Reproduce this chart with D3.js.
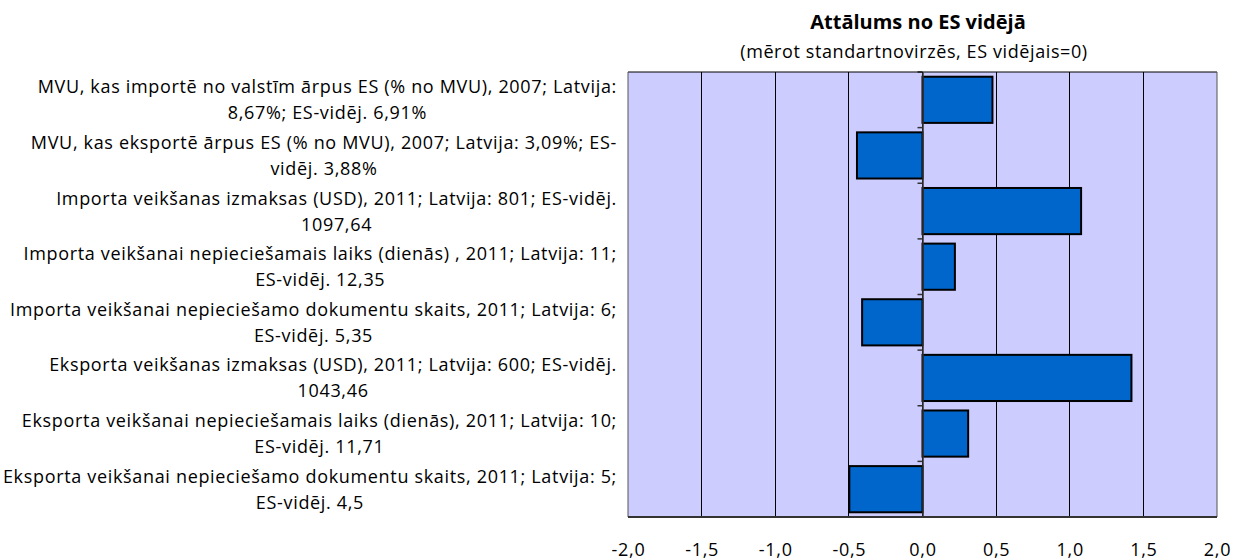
<!DOCTYPE html>
<html><head><meta charset="utf-8">
<script src="https://cdn.jsdelivr.net/npm/d3@7"></script>
<style>
body{margin:0;background:#fff;}
svg{display:block;}
text{font-family:"Open Sans",sans-serif;fill:#000;}
</style></head>
<body><svg id="c" width="1233" height="560"></svg>
<script>
const title = "Attālums no ES vidējā";
const subtitle = "(mērot standartnovirzēs, ES vidējais=0)";
const labelLine1 = [
  "MVU, kas importē no valstīm ārpus ES (% no MVU), 2007; Latvija:",
  "MVU, kas eksportē ārpus ES (% no MVU), 2007; Latvija: 3,09%; ES-",
  "Importa veikšanas izmaksas (USD), 2011; Latvija: 801; ES-vidēj.",
  "Importa veikšanai nepieciešamais laiks (dienās) , 2011; Latvija: 11;",
  "Importa veikšanai nepieciešamo dokumentu skaits, 2011; Latvija: 6;",
  "Eksporta veikšanas izmaksas (USD), 2011; Latvija: 600; ES-vidēj.",
  "Eksporta veikšanai nepieciešamais laiks (dienās), 2011; Latvija: 10;",
  "Eksporta veikšanai nepieciešamo dokumentu skaits, 2011; Latvija: 5;"
];
const labelLine2 = [
  "8,67%; ES-vidēj. 6,91%",
  "vidēj. 3,88%",
  "1097,64",
  "ES-vidēj. 12,35",
  "ES-vidēj. 5,35",
  "1043,46",
  "ES-vidēj. 11,71",
  "ES-vidēj. 4,5"
];
const values = [0.475, -0.445, 1.077, 0.22, -0.41, 1.419, 0.31, -0.497];
const xTicks = [-2, -1.5, -1, -0.5, 0, 0.5, 1, 1.5, 2];

const svg = d3.select("#c");
const L = 628, R = 1217, T = 72, B = 517;
const x = d3.scaleLinear().domain([-2, 2]).range([L, R]);
const idx = d3.range(values.length);
const y = d3.scaleBand().domain(idx).range([T, B]).paddingInner(0.17).paddingOuter(0.085);
const yb = d3.scaleBand().domain(idx).range([T, B]);

// plot background
svg.append("rect").attr("x", L).attr("y", T).attr("width", R - L).attr("height", B - T)
  .attr("fill", "#CCCCFF");

// gridlines
svg.append("g").selectAll("line").data(xTicks.filter(d => d > -2 && d < 2)).join("line")
  .attr("x1", d => x(d)).attr("x2", d => x(d)).attr("y1", T).attr("y2", B)
  .attr("stroke", "#000").attr("stroke-width", 1).attr("shape-rendering", "crispEdges");

// bars
svg.append("g").selectAll("rect").data(values).join("rect")
  .attr("x", d => x(Math.min(0, d)))
  .attr("width", d => Math.abs(x(d) - x(0)))
  .attr("y", (d, i) => y(i))
  .attr("height", y.bandwidth())
  .attr("fill", "#0066CC").attr("stroke", "#000").attr("stroke-width", 2);

// category axis at zero with ticks
const yAxis = d3.axisLeft(yb).tickSize(0).tickFormat("");
const ga = svg.append("g").attr("transform", `translate(${x(0)},0)`).call(yAxis);
ga.select(".domain").attr("stroke", "#333").attr("stroke-width", 1.5);
svg.append("g").selectAll("line").data(d3.range(values.length + 1)).join("line")
  .attr("x1", x(0) - 5).attr("x2", x(0))
  .attr("y1", i => T + i * yb.step()).attr("y2", i => T + i * yb.step())
  .attr("stroke", "#333").attr("stroke-width", 1.5);

// plot border
svg.append("line").attr("x1", L).attr("x2", R).attr("y1", T).attr("y2", T).attr("stroke", "#000").attr("stroke-width", 1);
svg.append("line").attr("x1", L).attr("x2", L).attr("y1", T).attr("y2", B).attr("stroke", "#555").attr("stroke-width", 1);
svg.append("line").attr("x1", R).attr("x2", R).attr("y1", T).attr("y2", B).attr("stroke", "#555").attr("stroke-width", 1);
svg.append("line").attr("x1", L).attr("x2", R).attr("y1", B).attr("y2", B).attr("stroke", "#333").attr("stroke-width", 2);

// x axis labels
const xAxis = d3.axisBottom(x).tickValues(xTicks).tickSize(0).tickPadding(0)
  .tickFormat(d => d3.format(".1f")(d).replace(".", ",").replace("−", "-"));
const gx = svg.append("g").attr("transform", `translate(0,556)`).call(xAxis);
gx.select(".domain").remove();
gx.selectAll("text").attr("y", 0).attr("dy", 0)
  .attr("font-family", "\"Open Sans\",sans-serif").attr("font-size", 18)
  .attr("letter-spacing", "0.7px").attr("fill", "#000");

// category labels
const lab = svg.append("g");
idx.forEach(i => {
  const cy = yb(i) + yb.step() / 2;
  const t1 = lab.append("text").attr("x", 617).attr("y", cy - 6.5)
    .attr("text-anchor", "end").attr("font-size", 18).attr("letter-spacing", "0.67px")
    .text(labelLine1[i]);
  const w = t1.node().getComputedTextLength();
  lab.append("text").attr("x", 617 - w / 2).attr("y", cy + 19.5)
    .attr("text-anchor", "middle").attr("font-size", 18).attr("letter-spacing", "0.67px")
    .text(labelLine2[i]);
});

// titles
svg.append("text").attr("x", 918).attr("y", 29).attr("text-anchor", "middle")
  .attr("font-size", 20).attr("font-weight", "bold").text(title);
svg.append("text").attr("x", 914).attr("y", 58).attr("text-anchor", "middle")
  .attr("font-size", 18).attr("letter-spacing", "0.6px").text(subtitle);
</script></body></html>
